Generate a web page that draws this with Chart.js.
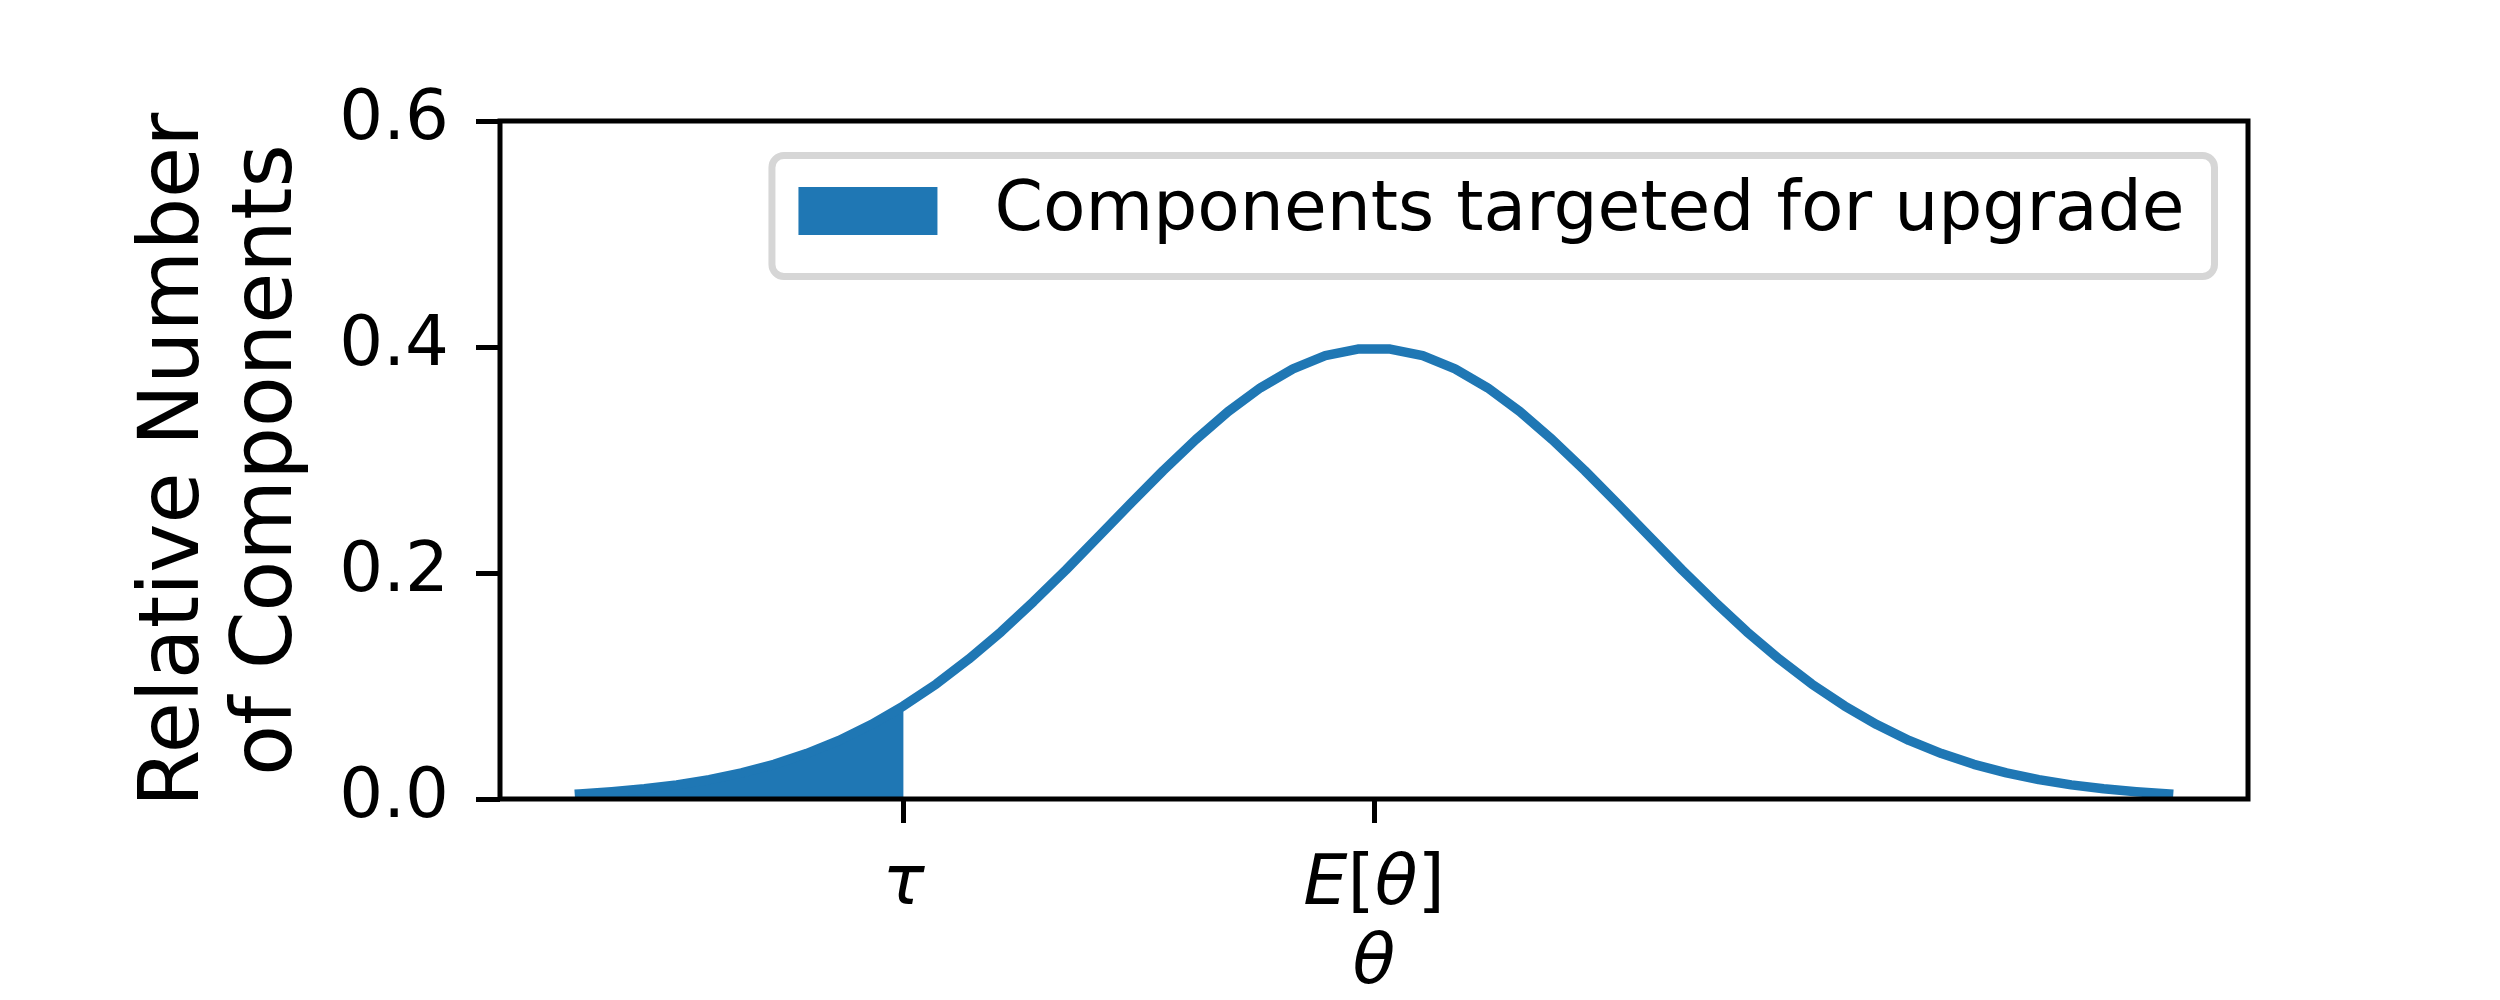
<!DOCTYPE html>
<html>
<head>
<meta charset="utf-8">
<script src="https://cdn.jsdelivr.net/npm/chart.js@4"></script>
<style>
  html, body { margin: 0; padding: 0; background: #fff; }
  #wrap { width: 2500px; height: 1000px; }
</style>
</head>
<body>
<div id="wrap"><canvas id="chart" width="2500" height="1000"></canvas></div>
<script>
// theta grid and density
const theta = [-3.000, -2.878, -2.755, -2.633, -2.510, -2.388, -2.265, -2.143, -2.020, -1.898,
  -1.776, -1.653, -1.531, -1.408, -1.286, -1.163, -1.041, -0.918, -0.796, -0.673,
  -0.551, -0.429, -0.306, -0.184, -0.061, 0.061, 0.184, 0.306, 0.429, 0.551,
  0.673, 0.796, 0.918, 1.041, 1.163, 1.286, 1.408, 1.531, 1.653, 1.776,
  1.898, 2.020, 2.143, 2.265, 2.388, 2.510, 2.633, 2.755, 2.878, 3.000];
const density = [0.0044, 0.0064, 0.0090, 0.0125, 0.0171, 0.0231, 0.0307, 0.0402, 0.0518, 0.0659,
  0.0825, 0.1017, 0.1236, 0.1480, 0.1746, 0.2028, 0.2321, 0.2617, 0.2906, 0.3180,
  0.3428, 0.3639, 0.3807, 0.3923, 0.3982, 0.3982, 0.3923, 0.3807, 0.3639, 0.3428,
  0.3180, 0.2906, 0.2617, 0.2321, 0.2028, 0.1746, 0.1480, 0.1236, 0.1017, 0.0825,
  0.0659, 0.0518, 0.0402, 0.0307, 0.0231, 0.0171, 0.0125, 0.0090, 0.0064, 0.0044];

const tau = -1.776;
const shadedCount = 11; // points up to tau
const xTickValues = [tau, 0];
const xTickLabels = ['τ', 'E[θ]'];
const legendLabel = 'Components targeted for upgrade';

const blue = '#1f77b4';
const font = '"DejaVu Sans", sans-serif';

const curve = theta.map((t, i) => ({x: t, y: density[i]}));
const shaded = curve.slice(0, shadedCount);

// box round the axes, like the matplotlib spines
const frame = {
  id: 'frame',
  afterDatasetsDraw(chart) {
    const {ctx, chartArea: a} = chart;
    ctx.save();
    ctx.strokeStyle = '#000';
    ctx.lineWidth = 5;
    ctx.strokeRect(a.left, a.top, a.right - a.left, a.bottom - a.top);
    ctx.restore();
  }
};

// x tick labels with upright brackets, italic letters
const mathTicks = {
  id: 'mathTicks',
  afterDraw(chart) {
    const sc = chart.scales.x, ctx = chart.ctx;
    ctx.save();
    ctx.fillStyle = '#000';
    ctx.textBaseline = 'alphabetic';
    xTickValues.forEach((v, i) => {
      const parts = [...xTickLabels[i]].map(ch => ({
        ch, f: ('[]'.includes(ch) ? '' : 'italic ') + '70px ' + font
      }));
      let w = 0;
      parts.forEach(p => { ctx.font = p.f; p.w = ctx.measureText(p.ch).width; w += p.w; });
      let x = sc.getPixelForValue(v) - w / 2;
      parts.forEach(p => { ctx.font = p.f; ctx.fillText(p.ch, x, sc.top + 105); x += p.w; });
    });
    ctx.restore();
  }
};

// legend box inside the axes, upper right
const boxLegend = {
  id: 'boxLegend',
  afterDraw(chart) {
    const {ctx, chartArea: a} = chart;
    const ds = chart.data.datasets[1];
    ctx.save();
    ctx.font = '69.5px ' + font;
    const tw = ctx.measureText(ds.label).width;
    const right = a.right - 33.5, top = a.top + 34.5;
    const w = 26.5 + 139 + 57 + tw + 30, h = 121;
    const left = right - w, r = 12;
    ctx.beginPath();
    ctx.moveTo(left + r, top);
    ctx.arcTo(right, top, right, top + h, r);
    ctx.arcTo(right, top + h, left, top + h, r);
    ctx.arcTo(left, top + h, left, top, r);
    ctx.arcTo(left, top, right, top, r);
    ctx.closePath();
    ctx.fillStyle = 'rgba(255,255,255,0.8)';
    ctx.fill();
    ctx.lineWidth = 7;
    ctx.strokeStyle = '#d6d6d6';
    ctx.stroke();
    ctx.fillStyle = ds.backgroundColor;
    ctx.fillRect(left + 26.5, top + 31.5, 139, 48);
    ctx.fillStyle = '#000';
    ctx.textBaseline = 'middle';
    ctx.fillText(ds.label, left + 26.5 + 139 + 57, top + 56);
    ctx.restore();
  }
};

new Chart(document.getElementById('chart'), {
  type: 'line',
  data: {
    datasets: [{
      label: 'density',
      data: curve,
      borderColor: blue,
      borderWidth: 9.5,
      borderCapStyle: 'square',
      borderJoinStyle: 'round',
      pointRadius: 0,
      tension: 0,
      fill: false
    }, {
      label: legendLabel,
      data: shaded,
      borderColor: 'rgba(0,0,0,0)',
      borderWidth: 0,
      backgroundColor: blue,
      pointRadius: 0,
      tension: 0,
      fill: 'origin'
    }]
  },
  options: {
    responsive: false,
    animation: false,
    layout: { padding: { left: 0, right: 252, top: 121, bottom: 0 } },
    plugins: { legend: { display: false }, tooltip: { enabled: false } },
    scales: {
      x: {
        type: 'linear',
        min: -3.3,
        max: 3.3,
        afterBuildTicks: s => { s.ticks = xTickValues.map(v => ({value: v})); },
        afterFit: s => { s.height = 201; },
        grid: { drawOnChartArea: false, drawTicks: true, tickLength: 24, tickWidth: 5, tickColor: '#000' },
        border: { display: false },
        ticks: { autoSkip: false, maxRotation: 0, minRotation: 0, color: 'rgba(0,0,0,0)',
                 font: { family: font, size: 69 }, callback: () => '' },
        title: { display: true, text: 'θ', color: '#000', padding: { top: 0, bottom: 0 },
                 font: { family: font, size: 70, style: 'italic', lineHeight: 1 } }
      },
      y: {
        min: 0,
        max: 0.6,
        afterFit: s => { s.width = 500; },
        grid: { drawOnChartArea: false, drawTicks: true, tickLength: 24, tickWidth: 5, tickColor: '#000' },
        border: { display: false },
        ticks: { stepSize: 0.2, padding: 27, color: '#000', font: { family: font, size: 69 },
                 callback: v => v.toFixed(1) },
        title: { display: true, text: ['Relative Number', 'of Components'], color: '#000',
                 padding: { top: 130, bottom: 0 },
                 font: { family: font, size: 83, lineHeight: 1.12 } }
      }
    }
  },
  plugins: [frame, mathTicks, boxLegend]
});
</script>
</body>
</html>
